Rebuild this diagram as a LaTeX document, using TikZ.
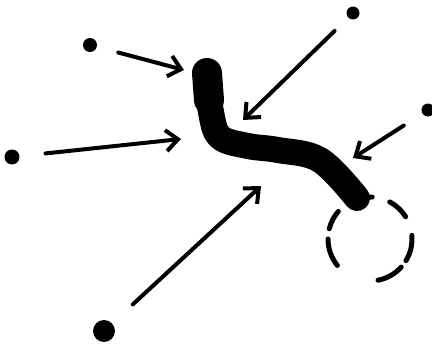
\documentclass[tikz,border=0pt]{standalone}
\usetikzlibrary{arrows.meta}

\tikzset{
  dot/.style={circle,fill=black,inner sep=0pt,minimum size=#1},
  dot/.default=14pt,
  pull/.style={line width=4pt,line cap=round,shorten <=#1,
               -{Straight Barb[length=12pt,width=21pt,line width=4pt]}},
  pull/.default=22pt
}

\begin{document}
\begin{tikzpicture}[x=1pt,y=-1pt]
  \useasboundingbox (0,0) rectangle (432,348);

  % --- Parameters ---
  \def\wbody{26}
  \def\whead{30}
  \def\rgoal{42}

  % --- Sources ---
  \node[dot]      (nw)  at (90,45)   {};
  \node[dot=15pt] (w)   at (12,157)  {};
  \node[dot=13pt] (ne)  at (353,13)  {};
  \node[dot=13pt] (e)   at (428,110) {};
  \node[dot=22pt] (sw)  at (104,331) {};

  % --- Arrow tips ---
  \coordinate (nwTip) at (184,70);
  \coordinate (wTip)  at (181,139);
  \coordinate (neTip) at (243,120);
  \coordinate (eTip)  at (353,158);
  \coordinate (swTip) at (261,186);

  % --- Body ---
  \draw[line width=\wbody pt,line cap=round,line join=round]
       plot[smooth,tension=0.6] coordinates
       {(207,74) (211,112) (220,137) (248,146) (278,150) (320,160) (357,198)};
  \draw[line width=\whead pt,line cap=round]
       (207,73) -- (209,100);

  % --- Target ---
  \coordinate (goal) at (370,239);
  \foreach \a/\b in {42/79, -5/31, -62/-32, -121/-87, -166/-139, 141/180}
    \draw[line width=5pt,line cap=round]
         (goal) ++(\a:\rgoal) arc[start angle=\a,end angle=\b,radius=\rgoal];

  % --- Pulls ---
  \draw[pull] (nw) -- (nwTip);
  \draw[pull=26pt] (w) -- (wTip);
  \draw[pull=19pt] (ne) -- (neTip);
  \draw[pull] (e) -- (eTip);
  \draw[pull=28pt] (sw) -- (swTip);
\end{tikzpicture}
\end{document}
